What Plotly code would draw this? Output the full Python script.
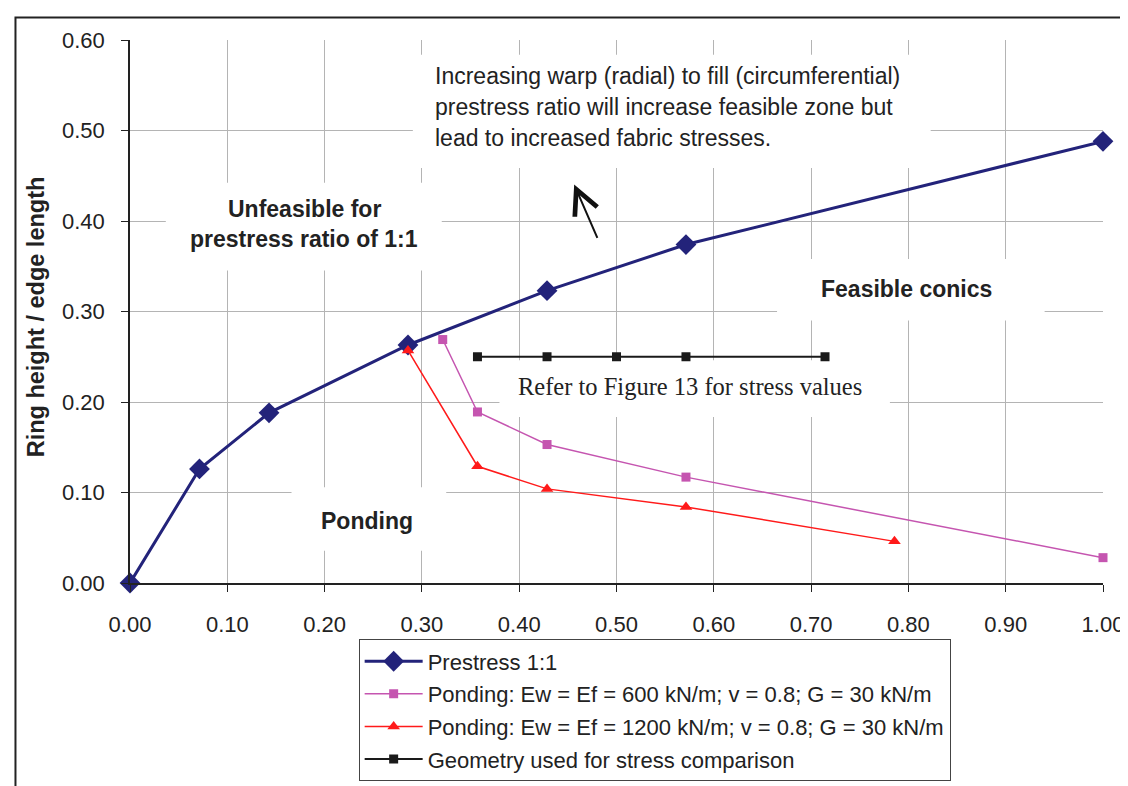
import plotly.graph_objects as go

# series
prestress_x = [0.0, 0.0714, 0.1429, 0.2857, 0.4286, 0.5714, 1.0]
prestress_y = [0.0, 0.126, 0.188, 0.263, 0.323, 0.374, 0.488]

pond600_x = [0.3214, 0.3571, 0.4286, 0.5714, 1.0]
pond600_y = [0.269, 0.189, 0.153, 0.117, 0.028]

pond1200_x = [0.2857, 0.3571, 0.4286, 0.5714, 0.7857]
pond1200_y = [0.257, 0.129, 0.104, 0.084, 0.046]

geom_x = [0.3571, 0.4286, 0.5, 0.5714, 0.7143]
geom_y = [0.25, 0.25, 0.25, 0.25, 0.25]

names = [
    "Prestress 1:1",
    "Ponding: Ew = Ef = 600 kN/m; v = 0.8; G = 30 kN/m",
    "Ponding: Ew = Ef = 1200 kN/m; v = 0.8; G = 30 kN/m",
    "Geometry used for stress comparison",
]

x_ticks = [0.0, 0.1, 0.2, 0.3, 0.4, 0.5, 0.6, 0.7, 0.8, 0.9, 1.0]
y_ticks = [0.0, 0.1, 0.2, 0.3, 0.4, 0.5, 0.6]

note_lines = [
    "Increasing warp (radial) to fill (circumferential)",
    "prestress ratio will increase feasible zone but",
    "lead to increased fabric stresses.",
]

SANS = "Liberation Sans, Arial, sans-serif"
SERIF = "Liberation Serif, Times New Roman, serif"
NAVY = "#23237a"
PINK = "#c555b0"
RED = "#ff1a1a"

fig = go.Figure()
fig.add_trace(go.Scatter(
    x=prestress_x, y=prestress_y, name=names[0], mode="lines+markers",
    line=dict(color=NAVY, width=3), marker=dict(symbol="diamond", size=16, color=NAVY),
    cliponaxis=False, legendgroup="a",
))
fig.add_trace(go.Scatter(
    x=pond600_x, y=pond600_y, name=names[1], mode="lines+markers",
    line=dict(color=PINK, width=1.5), marker=dict(symbol="square", size=9, color=PINK),
    cliponaxis=False, legendgroup="b",
))
fig.add_trace(go.Scatter(
    x=pond1200_x, y=pond1200_y, name=names[2], mode="lines+markers",
    line=dict(color=RED, width=1.5), marker=dict(symbol="triangle-up", size=11, color=RED),
    cliponaxis=False, legendgroup="c",
))
fig.add_trace(go.Scatter(
    x=geom_x, y=geom_y, name=names[3], mode="lines+markers",
    line=dict(color="#1a1a1a", width=2), marker=dict(symbol="square", size=9, color="#1a1a1a"),
    cliponaxis=False, legendgroup="d",
))

# white text boxes over the grid (data coords)
boxes = [
    (0.2907, 0.4586, 0.8229, 0.5838),   # note
    (0.0368, 0.3453, 0.3204, 0.4424),   # unfeasible
    (0.6650, 0.2900, 0.9400, 0.3580),   # feasible conics
    (0.1660, 0.0356, 0.3250, 0.1058),   # ponding
    (0.3797, 0.1834, 0.7810, 0.2460),   # refer
]
for x0, y0, x1, y1 in boxes:
    fig.add_shape(type="rect", xref="x", yref="y", x0=x0, y0=y0, x1=x1, y1=y1,
                  fillcolor="white", line_width=0, layer="between")

# outer frame
fig.add_shape(type="rect", xref="paper", yref="paper", x0=-0.1177, y0=-0.40, x1=1.06, y1=1.0414,
              line=dict(color="#222", width=2), fillcolor="rgba(0,0,0,0)", layer="above")

for txt, yy in zip(note_lines, [0.5601, 0.5255, 0.4921]):
    fig.add_annotation(x=0.311, y=yy, xref="x", yref="y", text=txt, showarrow=False,
                       xanchor="left", yanchor="middle", font=dict(family=SANS, size=23, color="#222"))

fig.add_annotation(x=0.4565, y=0.4403, ax=0.481, ay=0.3798, xref="x", yref="y",
                   axref="x", ayref="y", text="", showarrow=True, arrowhead=5,
                   arrowsize=2.4, arrowwidth=2, arrowcolor="#111")

bold = dict(family=SANS, size=23, color="#222")
fig.add_annotation(x=0.1791, y=0.4131, text="<b>Unfeasible for</b>", showarrow=False, font=bold)
fig.add_annotation(x=0.1791, y=0.3797, text="<b>prestress ratio of 1:1</b>", showarrow=False, font=bold)
fig.add_annotation(x=0.798, y=0.3248, text="<b>Feasible conics</b>", showarrow=False, font=bold)
fig.add_annotation(x=0.2437, y=0.0684, text="<b>Ponding</b>", showarrow=False, font=bold)
fig.add_annotation(x=0.397, y=0.2169, text="Refer to Figure 13 for stress values", showarrow=False,
                   xanchor="left", font=dict(family=SERIF, size=24.5, color="#222"))

fig.add_annotation(x=-0.0962, y=0.49, xref="paper", yref="paper", text="<b>Ring height / edge length</b>",
                   textangle=-90, xanchor="center", yanchor="middle", showarrow=False,
                   font=dict(family=SANS, size=23.5, color="#222"))

fig.update_xaxes(
    range=[0, 1], tickvals=x_ticks, tickformat=".2f", showgrid=True, gridcolor="#b4b4b4",
    gridwidth=1, showline=True, linecolor="#222", linewidth=1.5, ticks="outside", ticklen=7,
    tickcolor="#222", zeroline=False, ticklabelstandoff=14,
    tickfont=dict(family=SANS, size=22, color="#222"),
)
fig.update_yaxes(
    range=[0, 0.6], tickvals=y_ticks, tickformat=".2f", showgrid=True, gridcolor="#b4b4b4",
    gridwidth=1, showline=True, linecolor="#222", linewidth=1.5, ticks="outside", ticklen=7,
    tickcolor="#222", zeroline=False, ticklabelstandoff=12,
    tickfont=dict(family=SANS, size=22, color="#222"),
)

fig.update_layout(
    width=1128, height=786, autosize=False,
    margin=dict(l=122, r=29, t=32, b=198),
    plot_bgcolor="white", paper_bgcolor="white",
    font=dict(family=SANS, color="#222"),
    legend=dict(
        x=0.235, y=-0.104, xanchor="left", yanchor="top",
        bgcolor="white", bordercolor="#444", borderwidth=1,
        font=dict(family=SANS, size=22, color="#222"),
        traceorder="grouped", tracegroupgap=1, itemwidth=58,
    ),
)

fig.write_html("out.html")
